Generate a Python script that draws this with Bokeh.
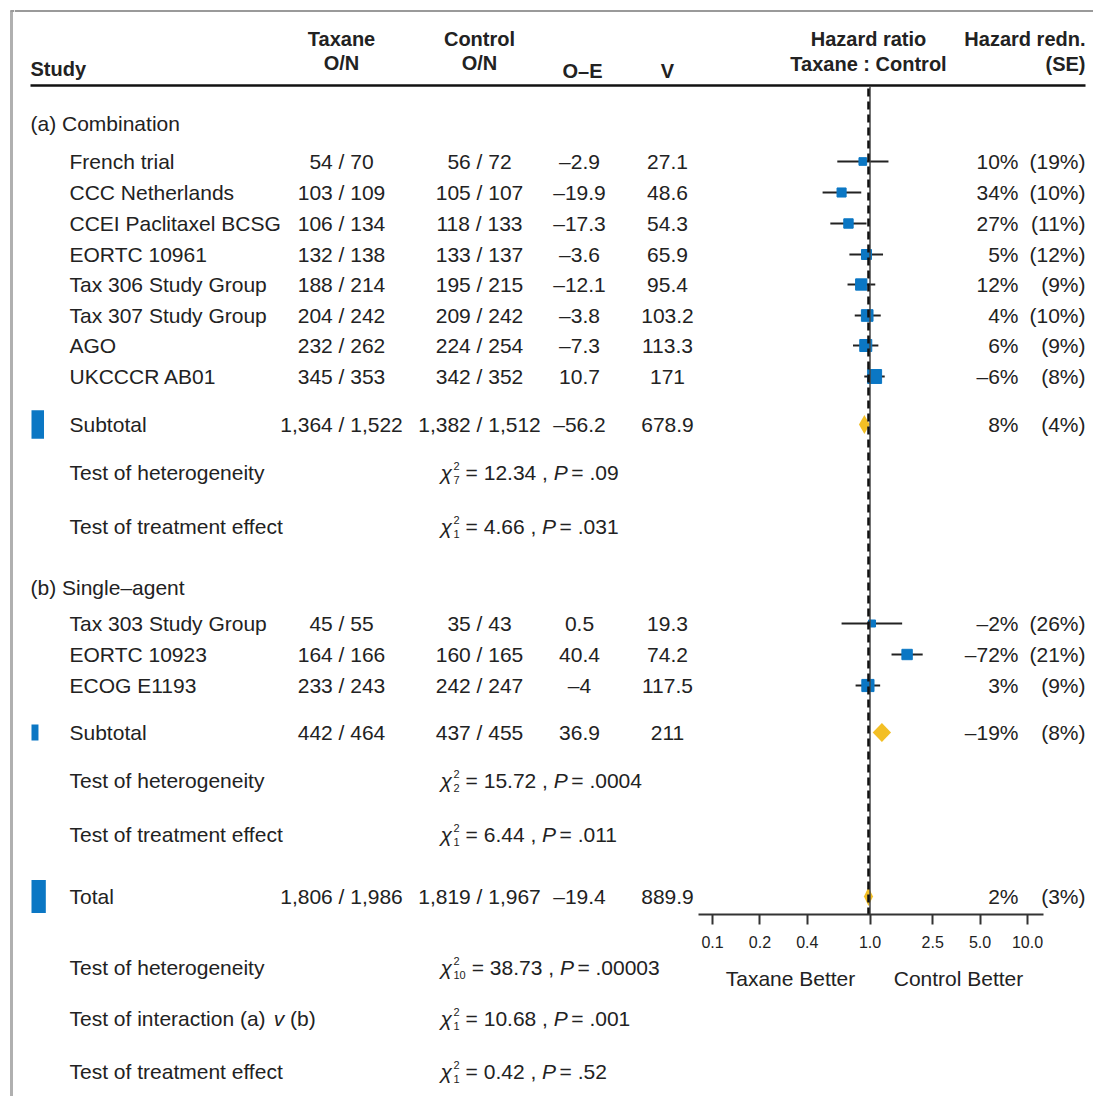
import math
from bokeh.plotting import figure
from bokeh.models import Range1d, LogScale, LogAxis, FixedTicker, PrintfTickFormatter
from bokeh.layouts import row, column
from bokeh.embed import file_html
from bokeh.resources import INLINE
from bokeh.core.properties import value

# ---------------- data ----------------
studies_a = ["French trial", "CCC Netherlands", "CCEI Paclitaxel BCSG", "EORTC 10961",
             "Tax 306 Study Group", "Tax 307 Study Group", "AGO", "UKCCCR AB01"]
tax_on_a = ["54 / 70", "103 / 109", "106 / 134", "132 / 138", "188 / 214", "204 / 242", "232 / 262", "345 / 353"]
ctl_on_a = ["56 / 72", "105 / 107", "118 / 133", "133 / 137", "195 / 215", "209 / 242", "224 / 254", "342 / 352"]
oe_a = [-2.9, -19.9, -17.3, -3.6, -12.1, -3.8, -7.3, 10.7]
v_a = [27.1, 48.6, 54.3, 65.9, 95.4, 103.2, 113.3, 171]
redn_a = ["10%", "34%", "27%", "5%", "12%", "4%", "6%", "–6%"]
se_a = ["(19%)", "(10%)", "(11%)", "(12%)", "(9%)", "(10%)", "(9%)", "(8%)"]
hr_a = [0.90, 0.66, 0.73, 0.95, 0.88, 0.96, 0.94, 1.07]
lo_a = [0.62, 0.50, 0.56, 0.74, 0.72, 0.80, 0.78, 0.92]
hi_a = [1.31, 0.88, 0.95, 1.21, 1.08, 1.17, 1.13, 1.24]

studies_b = ["Tax 303 Study Group", "EORTC 10923", "ECOG E1193"]
tax_on_b = ["45 / 55", "164 / 166", "233 / 243"]
ctl_on_b = ["35 / 43", "160 / 165", "242 / 247"]
oe_b = [0.5, 40.4, -4]
v_b = [19.3, 74.2, 117.5]
redn_b = ["–2%", "–72%", "3%"]
se_b = ["(26%)", "(21%)", "(9%)"]
hr_b = [1.03, 1.72, 0.97]
lo_b = [0.66, 1.37, 0.81]
hi_b = [1.60, 2.16, 1.16]

sum_labels = ["Subtotal", "Subtotal", "Total"]
sum_tax_on = ["1,364 / 1,522", "442 / 464", "1,806 / 1,986"]
sum_ctl_on = ["1,382 / 1,512", "437 / 455", "1,819 / 1,967"]
sum_oe = [-56.2, 36.9, -19.4]
sum_v = [678.9, 211, 889.9]
sum_redn = ["8%", "–19%", "2%"]
sum_se = ["(4%)", "(8%)", "(3%)"]
sum_hr = [0.921, 1.19, 0.978]
sum_lo = [0.851, 1.04, 0.915]
sum_hi = [0.997, 1.36, 1.045]

test_labels_a = ["Test of heterogeneity", "Test of treatment effect"]
test_df_a = ["7", "1"]
test_chi_a = ["12.34", "4.66"]
test_p_a = [".09", ".031"]
test_labels_b = ["Test of heterogeneity", "Test of treatment effect"]
test_df_b = ["2", "1"]
test_chi_b = ["15.72", "6.44"]
test_p_b = [".0004", ".011"]
test_labels_t = ["Test of heterogeneity", "Test of interaction (a) v (b)", "Test of treatment effect"]
test_df_t = ["10", "1", "1"]
test_chi_t = ["38.73", "10.68", "0.42"]
test_p_t = [".00003", ".001", ".52"]

hr_ticks = [0.1, 0.2, 0.4, 1.0, 2.5, 5.0, 10.0]

# ---------------- style / layout ----------------
FONT = "Liberation Sans"
TXT = "#222222"
BLUE = "#0b77c4"
YELLOW = "#f3bf25"
FS = 21
PX_ONE = 869.5      # page x of HR = 1
PX_DEC = 157.5      # pixels per decade

LEFT = 0
STRIP_R = 14
RIGHT = 1093
T_TOP, T_BOT = 0, 914
AX_H = 40
B_TOP = T_BOT + AX_H
B_BOT = 1096

ARIAL = {' ': .278, '(': .333, ')': .333, ',': .278, '.': .278, '/': .278, '=': .584,
         '%': .889, '–': .556, 'P': .667, 'T': .611}
for d in "0123456789":
    ARIAL[d] = .556
ARIAL.update(dict(a=.556, b=.556, c=.5, d=.556, e=.556, f=.278, g=.556, h=.556, i=.222,
                  j=.222, k=.5, l=.222, m=.833, n=.556, o=.556, p=.556, q=.556, r=.333,
                  s=.5, t=.278, u=.556, v=.5, w=.722, x=.5, y=.5, z=.5))
SP = ARIAL[' '] * FS


def tw(s, size):
    return sum(ARIAL.get(c, .556) for c in s) * size


def fmt(v):
    return f"{v:g}".replace("-", "–")


def px2hr(px):
    return 10 ** ((px - PX_ONE) / PX_DEC)


def mk_fig(width, height, x0, x1, ytop, ybot):
    p = figure(width=width, height=height, x_range=Range1d(x0, x1), y_range=Range1d(ybot, ytop),
               output_backend="svg", toolbar_location=None, x_axis_type=None, y_axis_type=None,
               min_border=0, outline_line_color=None, background_fill_color="white",
               border_fill_color="white")
    return p


def txt(p, xs, ys, texts, align="left", size=FS, style="normal", color=TXT, **kw):
    p.text(x=list(xs), y=list(ys), text=list(texts), text_align=align, text_baseline="middle",
           text_font=value(FONT), text_font_size=f"{size}px", text_font_style=style,
           text_color=color, **kw)


def draw_tests(p, labels, ys, dfs, chis, ps):
    n = len(labels)
    # labels (with italic "v")
    for lab, y in zip(labels, ys):
        if " v " in lab:
            pre, post = lab.split(" v ")
            txt(p, [69], [y], [pre])
            xv = 69 + tw(pre, FS) + SP
            txt(p, [xv], [y], ["v"], style="italic")
            txt(p, [xv + tw("v", FS) + SP], [y], [post])
        else:
            txt(p, [69], [y], [lab])
    x0 = 440
    txt(p, [x0] * n, ys, ["χ"] * n, style="italic")
    txt(p, [x0 + 13] * n, [y - 7 for y in ys], ["2"] * n, size=11)
    txt(p, [x0 + 13] * n, [y + 7 for y in ys], dfs, size=11)
    x_eq = [x0 + 13 + tw(d, 11) + 6 for d in dfs]
    part1 = ["= " + c + " ," for c in chis]
    txt(p, x_eq, ys, part1)
    xp = [a + tw(s, FS) + SP for a, s in zip(x_eq, part1)]
    txt(p, xp, ys, ["P"] * n, style="italic")
    txt(p, [a + tw("P", FS) + SP * 0.6 for a in xp], ys, ["= " + q for q in ps])


# ---------------- left border strip ----------------
H_TOTAL = B_BOT - T_TOP
strip = mk_fig(STRIP_R - LEFT, H_TOTAL, LEFT, STRIP_R, T_TOP, B_BOT)
strip.segment(x0=[11], x1=[11], y0=[10], y1=[B_BOT], line_color="#b0b0b0", line_width=3)
strip.segment(x0=[10], x1=[STRIP_R], y0=[10.5], y1=[10.5], line_color="#9a9a9a", line_width=2)

# ---------------- top figure ----------------
W = RIGHT - STRIP_R
T = mk_fig(W, (T_BOT - T_TOP) + AX_H, STRIP_R, RIGHT, T_TOP, T_BOT)
T.min_border_bottom = AX_H
T.extra_x_ranges = {"hr": Range1d(px2hr(STRIP_R), px2hr(RIGHT))}
T.extra_x_scales = {"hr": LogScale()}
ax = LogAxis(x_range_name="hr", ticker=FixedTicker(ticks=hr_ticks, minor_ticks=[]),
             formatter=PrintfTickFormatter(format="%.1f"), bounds=(px2hr(698), px2hr(1043)))
ax.axis_line_color = "#333333"
ax.axis_line_width = 2
ax.major_tick_line_color = "#333333"
ax.major_tick_line_width = 2
ax.major_tick_out = 10
ax.major_tick_in = 0
ax.minor_tick_line_color = None
ax.major_label_text_font = FONT
ax.major_label_text_font_size = "16px"
ax.major_label_text_color = TXT
ax.major_label_standoff = 11
T.add_layout(ax, "below")

# frame lines
T.segment(x0=[STRIP_R], x1=[RIGHT], y0=[10.5], y1=[10.5], line_color="#9a9a9a", line_width=2)
T.segment(x0=[30], x1=[1085], y0=[85], y1=[85], line_color="#111111", line_width=2.5)

# header
HB = dict(style="bold", size=20)
txt(T, [30], [68], ["Study"], **HB)
txt(T, [341, 479], [38, 38], ["Taxane", "Control"], align="center", **HB)
txt(T, [341, 479], [62, 62], ["O/N", "O/N"], align="center", **HB)
txt(T, [582, 667], [70, 70], ["O–E", "V"], align="center", **HB)
txt(T, [868], [38], ["Hazard ratio"], align="center", **HB)
txt(T, [868], [63], ["Taxane : Control"], align="center", **HB)
txt(T, [1085, 1085], [38, 63], ["Hazard redn.", "(SE)"], align="right", **HB)

# group labels
txt(T, [30, 30], [123, 587], ["(a) Combination", "(b) Single–agent"])

rows_a = [161, 192, 223, 254, 284, 315, 345, 376]
rows_b = [623, 654, 685]
rows_s = [424, 732, 896]


def study_block(names, tax, ctl, oe, v, redn, se, ys):
    n = len(ys)
    txt(T, [69] * n, ys, names)
    txt(T, [341] * n, ys, tax, align="center")
    txt(T, [479] * n, ys, ctl, align="center")
    txt(T, [579] * n, ys, [fmt(x) for x in oe], align="center")
    txt(T, [667] * n, ys, [fmt(x) for x in v], align="center")
    txt(T, [1018] * n, ys, redn, align="right")
    txt(T, [1085] * n, ys, se, align="right")


study_block(studies_a, tax_on_a, ctl_on_a, oe_a, v_a, redn_a, se_a, rows_a)
study_block(studies_b, tax_on_b, ctl_on_b, oe_b, v_b, redn_b, se_b, rows_b)
study_block(sum_labels, sum_tax_on, sum_ctl_on, sum_oe, sum_v, sum_redn, sum_se, rows_s)

# blue bars for summaries (area ~ V), left-aligned at x=31
bw = [0.48 * math.sqrt(v) for v in sum_v]
bh = [1.1 * math.sqrt(v) for v in sum_v]
T.rect(x=[31 + w / 2 for w in bw], y=rows_s, width=bw, height=bh, width_units="screen",
       height_units="screen", fill_color=BLUE, line_color=None)

# tests
draw_tests(T, test_labels_a, [472, 526], test_df_a, test_chi_a, test_p_a)
draw_tests(T, test_labels_b, [780, 834], test_df_b, test_chi_b, test_p_b)

# forest: CIs and squares
ys_f = rows_a + rows_b
hr_f = hr_a + hr_b
lo_f = lo_a + lo_b
hi_f = hi_a + hi_b
v_f = v_a + v_b
T.segment(x0=lo_f, x1=hi_f, y0=ys_f, y1=ys_f, x_range_name="hr", line_color="#222222", line_width=2)
T.scatter(x=hr_f, y=ys_f, marker="square", size=[3.5 + 0.8 * math.sqrt(v) for v in v_f],
          fill_color=BLUE, line_color=BLUE, x_range_name="hr")
# diamonds
T.patches(xs=[[l, h, u, h] for l, h, u in zip(sum_lo, sum_hr, sum_hi)],
          ys=[[y, y - 9.5, y, y + 9.5] for y in rows_s], x_range_name="hr",
          fill_color=YELLOW, line_color=None)
# reference lines
T.segment(x0=[1.0], x1=[1.0], y0=[86], y1=[T_BOT], x_range_name="hr", line_color="#444444", line_width=1.5)
T.segment(x0=[sum_hr[2]], x1=[sum_hr[2]], y0=[88], y1=[T_BOT], x_range_name="hr",
          line_color="#111111", line_width=2.5, line_dash="8 5")

# ---------------- bottom figure ----------------
B = mk_fig(W, B_BOT - B_TOP, STRIP_R, RIGHT, B_TOP, B_BOT)
draw_tests(B, test_labels_t, [967, 1018, 1071], test_df_t, test_chi_t, test_p_t)
txt(B, [790, 958], [978, 978], ["Taxane Better", "Control Better"], align="center")

layout = row(strip, column(T, B))
open("out.html", "w").write(file_html(layout, INLINE))
